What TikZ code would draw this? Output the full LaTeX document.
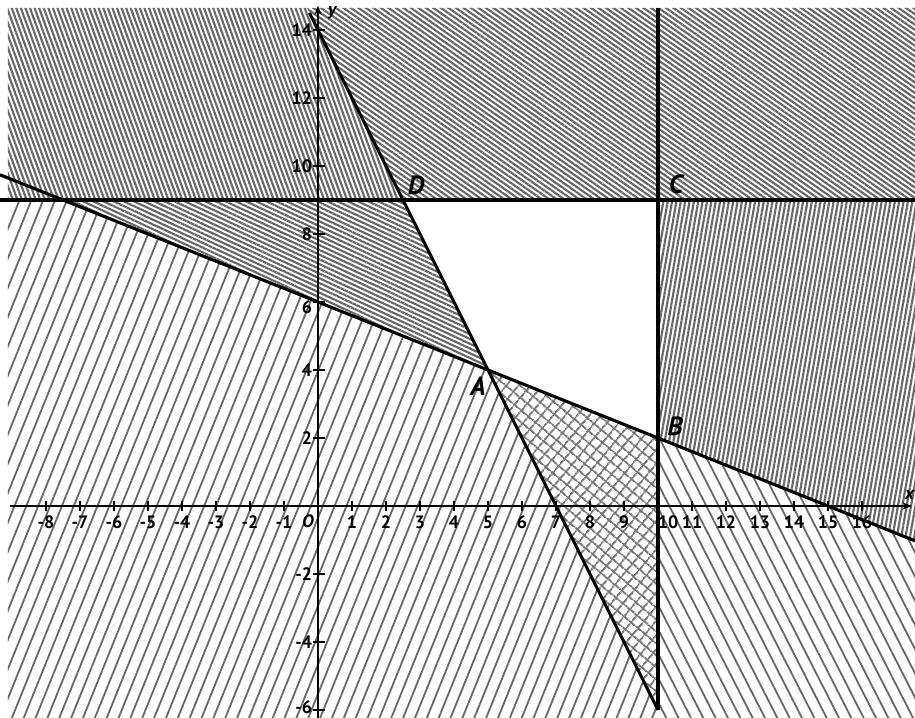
\documentclass[tikz,border=0pt]{standalone}
\usepackage{fontspec}
\setmainfont{PT Sans}
\usetikzlibrary{patterns.meta,arrows.meta}
\begin{document}
\begin{tikzpicture}[x=1cm,y=1cm,
  dense/.style={pattern={Lines[angle=#1,distance=3.6pt,line width=1.8pt]},pattern color=black!60},
  sparse/.style={pattern={Lines[angle=#1,distance=9.2pt,line width=1.5pt]},pattern color=black!60},
  xhatch/.style={pattern={Lines[angle=#1,distance=7.4pt,line width=1.6pt]},pattern color=black!55},
  bnd/.style={line width=2.6pt,black},
  axisline/.style={line width=2.2pt,-{Stealth[length=8pt,width=6pt]}},
  tk/.style={line width=1.3pt},
  tlab/.style={font=\fontsize{15}{15}\selectfont\bfseries,inner sep=0pt},
  ilab/.style={font=\fontsize{15}{15}\selectfont\bfseries\itshape,inner sep=0pt},
  plab/.style={font=\fontsize{22}{22}\selectfont\bfseries\itshape,inner sep=0pt},
]
\useasboundingbox (-9.353,-6.235) rectangle (17.559,14.882);
\fill[white] (-9.353,-6.235) rectangle (17.559,14.882);
\def\xl{-9.12}\def\xr{17.56}\def\yb{-6.24}\def\yt{14.65}
% hatched regions
\fill[sparse=68] (\xl,9) -- (-7.5,9) -- (5,4) -- (10.118,\yb) -- (\xl,\yb) -- cycle;
\fill[sparse=117] (10,2) -- (\xr,-1.024) -- (\xr,\yb) -- (10,\yb) -- cycle;
\fill[xhatch=50] (5,4) -- (10,2) -- (10,-6) -- cycle;
\fill[xhatch=140] (5,4) -- (10,2) -- (10,-6) -- cycle;
\fill[dense=110] (\xl,9) -- (2.5,9) -- (-0.325,\yt) -- (\xl,\yt) -- cycle;
\fill[dense=145] (2.5,9) -- (\xr,9) -- (\xr,\yt) -- (-0.325,\yt) -- cycle;
\fill[dense=155] (-7.5,9) -- (2.5,9) -- (5,4) -- cycle;
\fill[dense=80] (10,9) -- (\xr,9) -- (\xr,-1.024) -- (10,2) -- cycle;
% named points
\coordinate (A) at (5,4);
\coordinate (B) at (10,2);
\coordinate (C) at (10,9);
\coordinate (D) at (2.5,9);
\coordinate (L1top) at (-0.25,14.5);
\coordinate (L1bot) at (10,-6);
\coordinate (L2l) at (-9.353,9.741);
\coordinate (L2r) at (17.559,-1.024);
\coordinate (Hl) at (-9.353,9);
\coordinate (Hr) at (17.559,9);
\coordinate (Vt) at (10,\yt);
\coordinate (Xs) at (-9.06,0);
\coordinate (Xe) at (17.47,0);
\coordinate (Ys) at (0,-6.24);
\coordinate (Ye) at (0,14.72);
% axes
\draw[axisline] (Xs) -- (Xe);
\draw[axisline] (Ys) -- (Ye);
\foreach \i in {-8,...,-1,1,2,...,16} \draw[tk] (\i,-0.15) -- (\i,0.15);
\foreach \i in {-6,-4,-2,2,4,...,14} \draw[tk] (-0.15,\i) -- (0.2,\i);
\foreach \i in {-8,...,-1,1,2,...,9,11,12,...,16} \node[tlab] at (\i,-0.47) {\i};
\node[tlab] at (10.3,-0.47) {10};
\foreach \i in {-4,-2,2,4,8,10,12,14} \node[tlab,anchor=east] at (-0.17,\i) {\i};
\node[tlab,anchor=east] at (-0.17,-5.93) {-6};
\node[tlab,anchor=east] at (-0.17,5.85) {6};
\node[ilab] (O) at (-0.3,-0.44) {O};
\node[ilab] (xl) at (17.4,0.33) {x};
\node[ilab] (yl) at (0.42,14.5) {y};
% boundary lines
\draw[bnd] (L1top) -- (D) -- (A) -- (L1bot);
\draw[bnd] (L2l) -- (A) -- (B) -- (L2r);
\draw[bnd] (Hl) -- (D) -- (C) -- (Hr);
\draw[bnd] (Vt) -- (C) -- (B) -- (L1bot);
% point labels
\node[plab] (lA) at (4.71,3.53) {A};
\node[plab] (lB) at (10.5,2.35) {B};
\node[plab] (lC) at (10.53,9.47) {C};
\node[plab] (lD) at (2.88,9.44) {D};
\end{tikzpicture}
\end{document}
